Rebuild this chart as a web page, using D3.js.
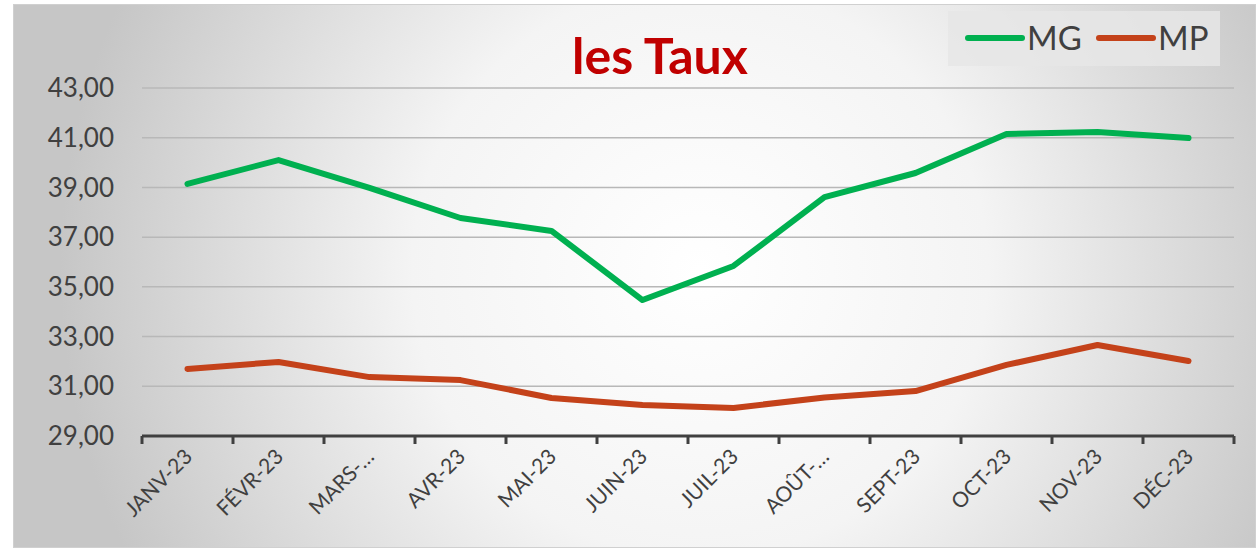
<!DOCTYPE html>
<html lang="fr">
<head>
<meta charset="UTF-8">
<title>les Taux</title>
<script src="https://d3js.org/d3.v7.min.js"></script>
<style>
  html, body { margin: 0; padding: 0; background: #fff; }
  svg { display: block; font-family: Lato, "Open Sans", sans-serif; }
</style>
</head>
<body>
<div id="chart"></div>
<script>
// data
const months = ["JANV-23", "FÉVR-23", "MARS-…", "AVR-23", "MAI-23", "JUIN-23",
                "JUIL-23", "AOÛT-…", "SEPT-23", "OCT-23", "NOV-23", "DÉC-23"];
const mg = [39.14, 40.10, 38.98, 37.77, 37.25, 34.47, 35.84, 38.61, 39.58, 41.15, 41.23, 40.99];
const mp = [31.70, 31.98, 31.37, 31.25, 30.53, 30.25, 30.13, 30.55, 30.81, 31.86, 32.66, 32.02];
const yTicks = [29, 31, 33, 35, 37, 39, 41, 43];
const series = [
  { name: "MG", values: mg, color: "#00b050" },
  { name: "MP", values: mp, color: "#c4421a" }
];

const W = 1256, H = 548;
const margin = { top: 88, right: 22, bottom: 112, left: 142 };

const svg = d3.select("#chart").append("svg")
  .attr("width", W).attr("height", H);

// background with radial gradient
const defs = svg.append("defs");
const grad = defs.append("radialGradient")
  .attr("id", "bg")
  .attr("gradientUnits", "userSpaceOnUse")
  .attr("cx", 700).attr("cy", 270).attr("r", 640);
grad.append("stop").attr("offset", "0%").attr("stop-color", "#ffffff");
grad.append("stop").attr("offset", "45%").attr("stop-color", "#f4f4f4");
grad.append("stop").attr("offset", "100%").attr("stop-color", "#c6c6c6");

svg.append("rect")
  .attr("x", 13.5).attr("y", 4.5)
  .attr("width", W - 14).attr("height", H - 5)
  .attr("fill", "url(#bg)")
  .attr("stroke", "#d0d0d0");

const x = d3.scaleBand()
  .domain(months)
  .range([margin.left, W - margin.right]);

const y = d3.scaleLinear()
  .domain([29, 43])
  .range([H - margin.bottom, margin.top]);

// gridlines
svg.append("g")
  .selectAll("line")
  .data(yTicks.slice(1))
  .join("line")
  .attr("x1", margin.left).attr("x2", W - margin.right)
  .attr("y1", d => y(d)).attr("y2", d => y(d))
  .attr("stroke", "#b8b8b8")
  .attr("stroke-width", 1.5);

// y labels
const fmt = d => d.toFixed(2).replace(".", ",");
svg.append("g")
  .selectAll("text")
  .data(yTicks)
  .join("text")
  .attr("x", 114)
  .attr("y", d => y(d))
  .attr("dy", "0.35em")
  .attr("text-anchor", "end")
  .attr("font-size", 26)
  .attr("fill", "#404040")
  .text(fmt);

// x axis
const xAxis = svg.append("g")
  .attr("transform", `translate(0,${y(29)})`);
xAxis.append("line")
  .attr("x1", margin.left).attr("x2", W - margin.right)
  .attr("stroke", "#404040").attr("stroke-width", 3);
const bounds = months.map(m => x(m)).concat([x.range()[1]]);
xAxis.selectAll(".tk")
  .data(bounds)
  .join("line")
  .attr("class", "tk")
  .attr("x1", d => d).attr("x2", d => d)
  .attr("y1", 0).attr("y2", 8)
  .attr("stroke", "#404040").attr("stroke-width", 3);

xAxis.selectAll(".lbl")
  .data(months)
  .join("text")
  .attr("class", "lbl")
  .attr("transform", d => `translate(${x(d) + x.bandwidth() / 2 + 6},${22}) rotate(-45)`)
  .attr("text-anchor", "end")
  .attr("font-size", 21)
  .attr("fill", "#404040")
  .text(d => d);

// lines
const line = d3.line()
  .x((d, i) => x(months[i]) + x.bandwidth() / 2)
  .y(d => y(d));

svg.append("g")
  .selectAll("path")
  .data(series)
  .join("path")
  .attr("d", d => line(d.values))
  .attr("fill", "none")
  .attr("stroke", d => d.color)
  .attr("stroke-width", 6)
  .attr("stroke-linejoin", "round")
  .attr("stroke-linecap", "round");

// title
svg.append("text")
  .attr("x", 660).attr("y", 74)
  .attr("text-anchor", "middle")
  .attr("font-size", 50)
  .attr("font-weight", "bold")
  .attr("fill", "#c00000")
  .text("les Taux");

// legend
const legend = svg.append("g");
legend.append("rect")
  .attr("x", 948).attr("y", 11)
  .attr("width", 272).attr("height", 55)
  .attr("fill", "#e6e6e6").attr("opacity", 0.85);
const items = legend.selectAll(".item")
  .data(series)
  .join("g")
  .attr("class", "item")
  .attr("transform", (d, i) => `translate(${968 + i * 131},38)`);
items.append("line")
  .attr("x1", 0).attr("x2", 54)
  .attr("stroke", d => d.color)
  .attr("stroke-width", 6)
  .attr("stroke-linecap", "round");
items.append("text")
  .attr("x", 59)
  .attr("dy", "0.36em")
  .attr("font-size", 33)
  .attr("fill", "#404040")
  .text(d => d.name);
</script>
</body>
</html>
